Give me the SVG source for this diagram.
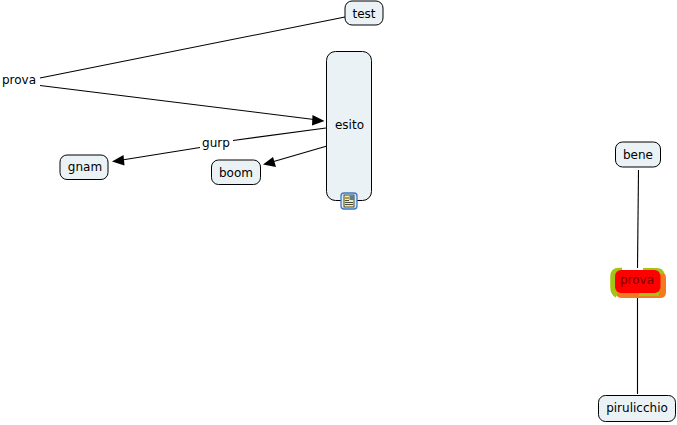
<svg xmlns="http://www.w3.org/2000/svg" width="677" height="425" viewBox="0 0 677 425">
<style>
.n{fill:#ebf2f5;stroke:#000;stroke-width:1}
.c{fill:none;stroke:#000;stroke-width:1.1}
.a{fill:#000;stroke:none}
text{font-family:"DejaVu Sans",Verdana,sans-serif;font-size:12px;fill:#000;text-anchor:middle}
</style>
<rect width="677" height="425" fill="#fff"/>
<g id="connectors">
<path class="c" d="M40 78L345 17"/>
<path class="c" d="M40 85.500L314 119.500"/>
<path class="a" d="M324.500 121L312.500 115L312 125.500Z"/>
<path class="c" d="M326 128L233 140.500"/>
<path class="c" d="M200 147.500L122 160"/>
<path class="a" d="M112 161.500L123.500 155L124.500 165.500Z"/>
<path class="c" d="M327 146L272 162"/>
<path class="a" d="M263 164.500L273 157L276 167Z"/>
<path class="c" d="M638.500 170L637.500 268"/>
<path class="c" d="M637.500 298L637.500 394"/>
</g>
<g id="node-test"><rect class="n" x="345" y="1" width="38" height="24" rx="7"/><text x="364" y="18">test</text></g>
<g id="node-esito"><rect class="n" x="326.500" y="51.500" width="45" height="149" rx="9"/><text x="349.500" y="129">esito</text>
<g id="icon-esito"><rect x="341" y="193" width="16" height="16" rx="3" fill="#dcebf5" stroke="#3a78c2" stroke-width="1.300"/><rect x="344" y="195" width="10" height="12" fill="#f5ee9a" stroke="#222" stroke-width=".8"/><rect x="349.500" y="195.500" width="4.500" height="4.500" fill="#5a7f8c"/><path d="M345 198h4M345 200.500h4M345 202.500h8M345 204.500h8" stroke="#222" stroke-width=".8" fill="none"/></g></g>
<g id="node-gnam"><rect class="n" x="60" y="155" width="48" height="24.500" rx="7"/><text x="85" y="171">gnam</text></g>
<g id="node-boom"><rect class="n" x="211.500" y="160" width="49" height="24.500" rx="7"/><text x="236" y="177">boom</text></g>
<g id="node-bene"><rect class="n" x="615.500" y="142" width="45" height="25" rx="7"/><text x="638" y="159">bene</text></g>
<g id="node-pirulicchio"><rect class="n" x="598.500" y="395.500" width="77" height="26" rx="7"/><text x="637" y="412">pirulicchio</text></g>
<g id="label-prova-left"><text x="19" y="84">prova</text></g>
<g id="label-gurp"><text x="216" y="147">gurp</text></g>
<g id="node-prova">
<path d="M618 272H660Q666 272 666 278V292Q666 298 660 298H622Q616 298 616 292Z" fill="#f47a1f"/>
<path d="M622 270.500H619Q613 270.500 613 276.500V287Q613 293 617 295" fill="none" stroke="#a4c414" stroke-width="5.500"/>
<path d="M643 270.500H656Q661 270.500 662 274" fill="none" stroke="#a4c414" stroke-width="5"/>
<path d="M639 294H659" fill="none" stroke="#a4c414" stroke-width="4"/>
<rect x="615" y="270" width="45.500" height="23" rx="6" fill="#ff0000"/>
<text x="637" y="284" style="fill:#7a0000">prova</text>
</g>
</svg>
